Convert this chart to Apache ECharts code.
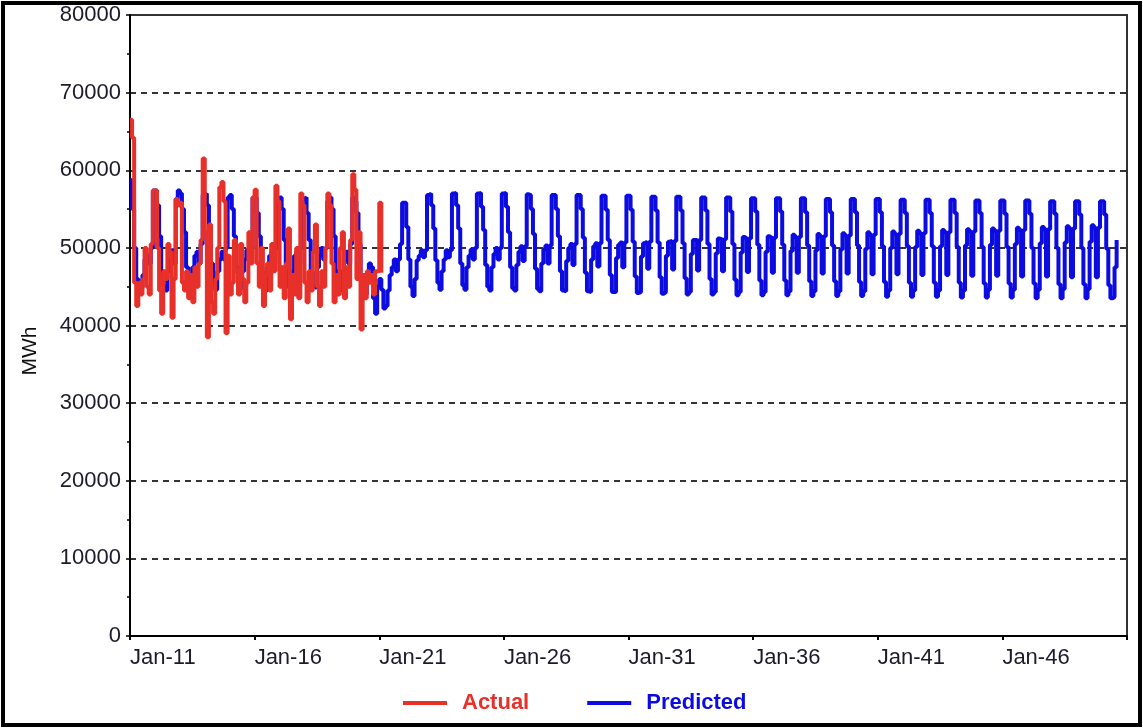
<!DOCTYPE html>
<html><head><meta charset="utf-8">
<script src="https://cdn.jsdelivr.net/npm/echarts@6/dist/echarts.min.js"></script>
<style>html,body{margin:0;padding:0;background:#fff}#c{width:1143px;height:728px}</style>
</head><body><div id="c"></div>
<script>
// ---- categories (monthly, Jan-11 .. Jan-51) ----
const monthNames = ['Jan','Feb','Mar','Apr','May','Jun','Jul','Aug','Sep','Oct','Nov','Dec'];
const firstYear = 2011, lastYear = 2051;
const categories = [];
for (let y = firstYear; y < lastYear; y++) {
  for (let m = 0; m < 12; m++) categories.push(monthNames[m] + '-' + String(y % 100).padStart(2, '0'));
}
categories.push('Jan-51');
const labelStep = 60;            // a label every 5 years
const yMin = 0, yMax = 80000, yStep = 10000;

// ---- Actual (Jan-11 .. Feb-21), MWh ----
const actual = [
  66500, 64200, 45500, 42500, 45500, 44000, 46000, 50000, 45000, 44000, 50500, 57400,
  57400, 50000, 44500, 41500, 47000, 46000, 50500, 49500, 41000, 46000, 56300, 55500,
  55800, 45500, 44500, 47000, 43500, 46500, 43000, 47500, 45000, 48000, 51000, 61500,
  52000, 38500, 53000, 43000, 41500, 46000, 50000, 57800, 58500, 56000, 39000, 49000,
  44000, 45500, 51000, 47000, 44000, 50500, 46000, 43000, 45500, 52000, 48000, 56500,
  57500, 48000, 45000, 50000, 42500, 46500, 48000, 44500, 50500, 47000, 58000, 56000,
  45000, 47500, 43500, 48000, 52500, 40800, 46500, 44000, 50000, 43500, 57000, 55500,
  45500, 43000, 47000, 44500, 49500, 53000, 45000, 42500, 47000, 45000, 50000, 57000,
  55500, 48000, 43000, 46500, 44000, 50000, 52000, 43500, 47500, 45000, 51000, 59500,
  57500, 46000, 52000, 39500, 46500, 43500, 47000, 45500, 46500, 44000, 47000, 47000,
  55800, 46800
];

// ---- Predicted (Jan-11 .. Aug-50), MWh, one row per year ----
const predictedByYear = [
  [58700, 55000, 50000, 46000, 45200, 44800, 46500, 48500, 49000, 48000, 50000, 57400], // 2011
  [57400, 55500, 51500, 47000, 45000, 44500, 47000, 48500, 49700, 48000, 56300, 57400], // 2012
  [57000, 55000, 52000, 47500, 45000, 44800, 47500, 49000, 49500, 48000, 50500, 56800], // 2013
  [57000, 55500, 52000, 48000, 45500, 44600, 47000, 48500, 49500, 48500, 50000, 56500], // 2014
  [56800, 55000, 51500, 47500, 45500, 44800, 47000, 48500, 49700, 48500, 50000, 56500], // 2015
  [56500, 54500, 51500, 47000, 45000, 44500, 47500, 49000, 49500, 48000, 50000, 56000], // 2016
  [56500, 55000, 51000, 47000, 45000, 44500, 47000, 49000, 49500, 48000, 50000, 56300], // 2017
  [56500, 54500, 51000, 47000, 45000, 44800, 47500, 49000, 50000, 48500, 50000, 56000], // 2018
  [56500, 55000, 51500, 47000, 45000, 44500, 47000, 48500, 49500, 48000, 50500, 56500], // 2019
  [56000, 54500, 50500, 46500, 44500, 44000, 46500, 48000, 47500, 43500, 41500, 45000], // 2020
  [46000, 44600, 42200, 42500, 44500, 46500, 47500, 48500, 47000, 48500, 50500, 55800], // 2021
  [55800, 52700, 48500, 45000, 43800, 46000, 48400, 49000, 49700, 48800, 49700, 56800], // 2022
  [57000, 55500, 52500, 48400, 45500, 44600, 47000, 48500, 49700, 48800, 49700, 57000], // 2023
  [57100, 55500, 52500, 48000, 45200, 44600, 47500, 49000, 49800, 48500, 50000, 57000], // 2024
  [57100, 55300, 52300, 47800, 45000, 44500, 47500, 49200, 50000, 48500, 50000, 57000], // 2025
  [57100, 55300, 52000, 47500, 44800, 44500, 47800, 49500, 50200, 48300, 50200, 56900], // 2026
  [56800, 55000, 51800, 47300, 44700, 44400, 48000, 49800, 50300, 48000, 50300, 56800], // 2027
  [56800, 55000, 51500, 47000, 44500, 44400, 48300, 50000, 50500, 47800, 50500, 56800], // 2028
  [56800, 55000, 51300, 46800, 44400, 44300, 48500, 50200, 50600, 47600, 50600, 56700], // 2029
  [56700, 54900, 51000, 46500, 44300, 44300, 48700, 50400, 50700, 47500, 50700, 56700], // 2030
  [56700, 54900, 50800, 46300, 44200, 44300, 48900, 50600, 50800, 47300, 50800, 56600], // 2031
  [56600, 54800, 50700, 46200, 44100, 44300, 49000, 50800, 50900, 47200, 50900, 56600], // 2032
  [56600, 54800, 50600, 46100, 44000, 44300, 49200, 51000, 51000, 47100, 51000, 56500], // 2033
  [56500, 54800, 50500, 46000, 44000, 44300, 49300, 51200, 51100, 47000, 51100, 56500], // 2034
  [56500, 54700, 50500, 45900, 43900, 44300, 49400, 51400, 51200, 46900, 51200, 56400], // 2035
  [56400, 54700, 50400, 45800, 43900, 44300, 49500, 51500, 51300, 46800, 51300, 56400], // 2036
  [56400, 54700, 50400, 45800, 43900, 44400, 49600, 51700, 51400, 46800, 51400, 56400], // 2037
  [56400, 54600, 50300, 45700, 43800, 44400, 49700, 51800, 51500, 46700, 51500, 56300], // 2038
  [56300, 54600, 50300, 45700, 43800, 44400, 49800, 51900, 51600, 46700, 51600, 56300], // 2039
  [56300, 54600, 50300, 45600, 43800, 44400, 49900, 52000, 51700, 46600, 51700, 56300], // 2040
  [56300, 54600, 50200, 45600, 43700, 44500, 50000, 52100, 51800, 46600, 51800, 56200], // 2041
  [56200, 54500, 50200, 45500, 43700, 44500, 50100, 52200, 51900, 46500, 51900, 56200], // 2042
  [56200, 54500, 50200, 45500, 43700, 44500, 50200, 52300, 52000, 46500, 52000, 56200], // 2043
  [56200, 54500, 50100, 45500, 43600, 44500, 50300, 52400, 52100, 46400, 52100, 56100], // 2044
  [56100, 54500, 50100, 45400, 43600, 44600, 50400, 52500, 52200, 46400, 52200, 56100], // 2045
  [56100, 54400, 50100, 45400, 43600, 44600, 50500, 52600, 52300, 46300, 52300, 56100], // 2046
  [56100, 54400, 50000, 45400, 43500, 44600, 50600, 52700, 52400, 46300, 52400, 56000], // 2047
  [56000, 54400, 50000, 45300, 43500, 44700, 50700, 52800, 52500, 46200, 52500, 56000], // 2048
  [56000, 54300, 50000, 45300, 43500, 44700, 50800, 52900, 52600, 46200, 52600, 56000], // 2049
  [56000, 54300, 49900, 45200, 43500, 43700, 47500, 51000]                              // 2050
];
const predicted = predictedByYear.flat();

const seriesNames = ['Actual', 'Predicted'];
const colors = { Actual: '#e8302a', Predicted: '#0c0ce0' };
const FONT = "'Liberation Sans', Arial, sans-serif";

const chart = echarts.init(document.getElementById('c'), null, { renderer: 'canvas' });
chart.setOption({
  animation: false,
  backgroundColor: '#ffffff',
  grid: { left: 130, right: 16, top: 15, bottom: 92, show: true, borderColor: '#333', borderWidth: 2, backgroundColor: 'transparent' },
  legend: {
    data: seriesNames.map(n => ({ name: n, textStyle: { color: colors[n] } })),
    left: 398, top: 687,
    icon: 'rect', itemWidth: 44, itemHeight: 4, itemGap: 58,
    textStyle: { fontFamily: FONT, fontSize: 22, fontWeight: 'bold', padding: [0, 0, 0, 10] }
  },
  xAxis: {
    type: 'category',
    data: categories,
    boundaryGap: false,
    axisLine: { lineStyle: { color: '#000', width: 2 } },
    axisTick: { show: true, length: 4, inside: false, interval: (i) => i % labelStep === 0, lineStyle: { color: '#000', width: 2 } },
    axisLabel: { interval: (i) => i % labelStep === 0 && i < categories.length - 1, align: 'left', margin: 11, fontFamily: FONT, fontSize: 22, color: '#1b1b2b' },
    splitLine: { show: false }
  },
  yAxis: {
    type: 'value',
    min: yMin, max: yMax, interval: yStep,
    axisLine: { show: true, lineStyle: { color: '#000', width: 2 } },
    axisTick: { show: true, length: 4, lineStyle: { color: '#000', width: 1.5 } },
    minorTick: { show: true, splitNumber: 2, length: 3, lineStyle: { color: '#000', width: 1.5 } },
    axisLabel: { margin: 9, fontFamily: FONT, fontSize: 22, color: '#1b1b2b', formatter: (v) => String(v) },
    splitLine: { show: true, lineStyle: { color: '#333', width: 2, type: [6, 5] } }
  },
  graphic: [
    { type: 'text', x: 30, y: 351, rotation: Math.PI / 2,
      style: { text: 'MWh', fontFamily: FONT, fontSize: 21, fill: '#111', align: 'center', verticalAlign: 'middle' } },
    { type: 'rect', shape: { x: 3, y: 3, width: 1137, height: 722 }, style: { fill: 'none', stroke: '#000', lineWidth: 4 }, z: 100 }
  ],
  series: [
    { name: 'Predicted', type: 'line', data: predicted, step: 'end', showSymbol: false, symbol: 'none',
      lineStyle: { color: colors.Predicted, width: 4 }, itemStyle: { color: colors.Predicted }, z: 2 },
    { name: 'Actual', type: 'line', data: actual, step: 'end', showSymbol: false, symbol: 'none',
      lineStyle: { color: colors.Actual, width: 4 }, itemStyle: { color: colors.Actual }, z: 3 }
  ]
});
</script>
</body></html>
